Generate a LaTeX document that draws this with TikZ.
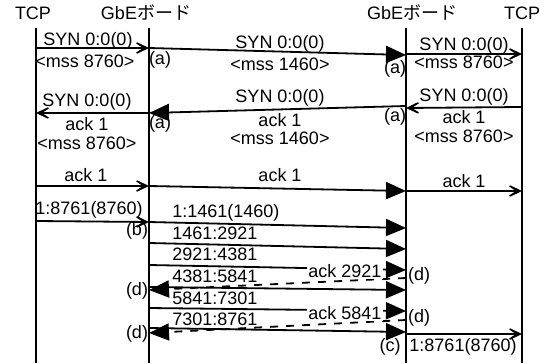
\documentclass[tikz,border=0pt]{standalone}
\usepackage{fontspec}
\setmainfont{Liberation Sans}
\newfontfamily\jp{Noto Sans CJK JP}
\usetikzlibrary{arrows.meta}

\tikzset{
  lbl/.style={font=\fontsize{9}{10}\selectfont, inner sep=0.5pt},
  life/.style={line width=1pt},
  msg/.style={line width=0.9pt, -{Stealth[length=11pt,width=10.5pt,inset=8pt]}},
  seg/.style={line width=0.9pt, -{Triangle[length=10pt,width=8.5pt]}},
  ackd/.style={seg, dash pattern=on 4pt off 4pt}
}

\begin{document}
\begin{tikzpicture}[x=0.5pt, y=-0.5pt]
\useasboundingbox (0,0) rectangle (544,363);

% Headers
\node[lbl] (tcpL) at (33,13) {TCP};
\node[lbl] (gbeL) at (146,13) {GbE{\jp ボード}};
\node[lbl] (gbeR) at (412,13) {GbE{\jp ボード}};
\node[lbl] (tcpR) at (522,13) {TCP};

% Lifelines
\foreach \n/\x in {tl/36, gl/149, gr/406, tr/522} {
  \coordinate (\n top) at (\x,28);
  \coordinate (\n bot) at (\x,363);
  \draw[life] (\n top) -- (\n bot);
}

% Handshake points
\coordinate (s1a) at (36,48);   \coordinate (s1b) at (149,48);
\coordinate (s2a) at (149,48);  \coordinate (s2b) at (406,55);
\coordinate (s3a) at (406,54);  \coordinate (s3b) at (522,54);
\coordinate (s4a) at (522,107); \coordinate (s4b) at (406,108);
\coordinate (s5a) at (406,106); \coordinate (s5b) at (149,113);
\coordinate (s6a) at (149,113); \coordinate (s6b) at (36,113);
\coordinate (k1a) at (36,186);  \coordinate (k1b) at (149,186);
\coordinate (k2a) at (149,186); \coordinate (k2b) at (406,191);
\coordinate (k3a) at (406,191); \coordinate (k3b) at (522,191);

% Data points
\coordinate (w1a) at (36,221);  \coordinate (w1b) at (149,222);
\coordinate (d1a) at (149,222); \coordinate (d1b) at (406,228);
\coordinate (d2a) at (149,243); \coordinate (d2b) at (406,249);
\coordinate (d3a) at (149,265); \coordinate (d3b) at (406,270);
\coordinate (d4a) at (149,287); \coordinate (d4b) at (406,290);
\coordinate (d5a) at (149,308); \coordinate (d5b) at (406,311);
\coordinate (d6a) at (149,328); \coordinate (d6b) at (406,332);
\coordinate (a1a) at (406,278); \coordinate (a1b) at (149,290);
\coordinate (a2a) at (406,320); \coordinate (a2b) at (149,333);
\coordinate (w2a) at (406,334); \coordinate (w2b) at (522,334);

% Handshake
\draw[msg] (s1a) -- (s1b);
\draw[seg] (s2a) -- (s2b);
\draw[msg] (s3a) -- (s3b);
\draw[msg] (s4a) -- (s4b);
\draw[seg] (s5a) -- (s5b);
\draw[msg] (s6a) -- (s6b);
\draw[msg] (k1a) -- (k1b);
\draw[seg] (k2a) -- (k2b);
\draw[msg] (k3a) -- (k3b);

\node[lbl] (s1t) at (88,41) {SYN 0:0(0)};
\node[lbl] (s1m) at (85,61) {<mss 8760>};
\node[lbl] (s1x) at (160,60) {(a)};
\node[lbl] (s2t) at (280,44) {SYN 0:0(0)};
\node[lbl] (s2m) at (280,64) {<mss 1460>};
\node[lbl] (s2x) at (395,69) {(a)};
\node[lbl] (s3t) at (464,46) {SYN 0:0(0)};
\node[lbl] (s3m) at (464,62) {<mss 8760>};

\node[lbl] (s4t) at (464,97) {SYN 0:0(0)};
\node[lbl] (s4k) at (464,117) {ack 1};
\node[lbl] (s4m) at (464,136) {<mss 8760>};
\node[lbl] (s4x) at (395,117) {(a)};
\node[lbl] (s5t) at (280,98) {SYN 0:0(0)};
\node[lbl] (s5k) at (280,120) {ack 1};
\node[lbl] (s5m) at (280,138) {<mss 1460>};
\node[lbl] (s5x) at (160,124) {(a)};
\node[lbl] (s6t) at (87,102) {SYN 0:0(0)};
\node[lbl] (s6k) at (87,124) {ack 1};
\node[lbl] (s6m) at (87,143) {<mss 8760>};

\node[lbl] (k1t) at (86,175) {ack 1};
\node[lbl] (k2t) at (280,175) {ack 1};
\node[lbl] (k3t) at (464,181) {ack 1};

% Data
\draw[msg] (w1a) -- (w1b);
\foreach \i in {1,...,6} \draw[seg] (d\i a) -- (d\i b);
\draw[ackd] (a1a) -- (a1b);
\draw[ackd] (a2a) -- (a2b);
\draw[msg] (w2a) -- (w2b);

\node[lbl] (w1t) at (89,210) {1:8761(8760)};
\node[lbl] (w1x) at (137,231) {(b)};
\node[lbl, anchor=west] (d1t) at (171,213) {1:1461(1460)};
\node[lbl, anchor=west] (d2t) at (171,233) {1461:2921};
\node[lbl, anchor=west] (d3t) at (171,254) {2921:4381};
\node[lbl, anchor=west] (d4t) at (171,276) {4381:5841};
\node[lbl, anchor=west] (d5t) at (171,298) {5841:7301};
\node[lbl, anchor=west] (d6t) at (171,319) {7301:8761};

\node[lbl, fill=white] (a1t) at (345,271) {ack 2921};
\node[lbl] (a1x) at (419,276) {(d)};
\node[lbl] (a1y) at (137,291) {(d)};
\node[lbl, fill=white] (a2t) at (345,313) {ack 5841};
\node[lbl] (a2x) at (419,318) {(d)};
\node[lbl] (a2y) at (137,334) {(d)};

\node[lbl] (w2x) at (390,347) {(c)};
\node[lbl] (w2t) at (463,347) {1:8761(8760)};
\end{tikzpicture}
\end{document}
